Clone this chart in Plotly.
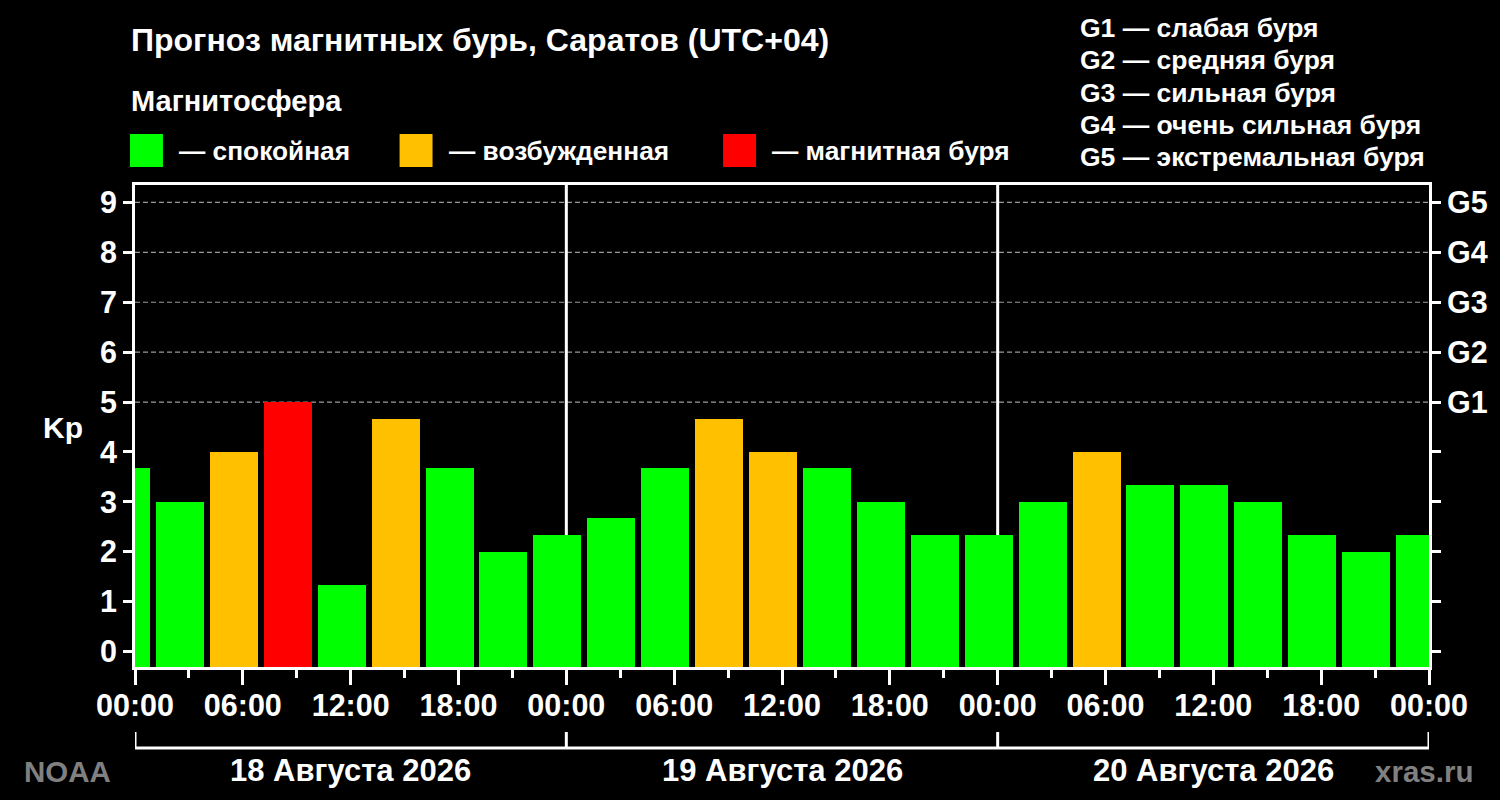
import plotly.graph_objects as go

# Kp forecast, 3-hour UTC bins shown in local time (UTC+04)
bin_centers = [-0.5, 2.5, 5.5, 8.5, 11.5, 14.5, 17.5, 20.5, 23.5, 26.5, 29.5, 32.5, 35.5,
               38.5, 41.5, 44.5, 47.5, 50.5, 53.5, 56.5, 59.5, 62.5, 65.5, 68.5, 71.5]
kp = [3.67, 3.00, 4.00, 5.00, 1.33, 4.67, 3.67, 2.00, 2.33, 2.67, 3.67, 4.67, 4.00,
      3.67, 3.00, 2.33, 2.33, 3.00, 4.00, 3.33, 3.33, 3.00, 2.33, 2.00, 2.33]

hour_ticks = [0, 6, 12, 18, 24, 30, 36, 42, 48, 54, 60, 66, 72]
hour_labels = ["00:00", "06:00", "12:00", "18:00"] * 3 + ["00:00"]
minor_ticks = [3, 9, 15, 21, 27, 33, 39, 45, 51, 57, 63, 69]
day_bounds = [0, 24, 48, 72]
day_centers = [12, 36, 60]
day_labels = ["18 Августа 2026", "19 Августа 2026", "20 Августа 2026"]

kp_ticks = [0, 1, 2, 3, 4, 5, 6, 7, 8, 9]
storm_levels = [5, 6, 7, 8, 9]
storm_labels = ["G1", "G2", "G3", "G4", "G5"]
storm_names = ["G1 — слабая буря", "G2 — средняя буря", "G3 — сильная буря",
               "G4 — очень сильная буря", "G5 — экстремальная буря"]

GREEN, ORANGE, RED = "#00ff00", "#ffc000", "#ff0000"
legend_items = [("— спокойная", GREEN), ("— возбужденная", ORANGE), ("— магнитная буря", RED)]
colors = [RED if v >= 5 else ORANGE if v >= 4 else GREEN for v in kp]

W, H = 1500, 800
L, R, T, B = 135, 1431, 185, 667
y_floor, y_top = -0.31, 9.35
FONT = "Liberation Sans, Arial, sans-serif"


def px(x):
    return (x - L) / (R - L)


def py(y):
    return (B - y) / (B - T)


fig = go.Figure()
fig.add_trace(go.Bar(
    x=bin_centers,
    y=[v - y_floor for v in kp],
    base=y_floor,
    width=2.67,
    marker=dict(color=colors, line=dict(width=0)),
    showlegend=False,
))
# invisible trace to carry the right-hand G axis
fig.add_trace(go.Scatter(x=[0], y=[0], yaxis="y2", mode="markers",
                         marker=dict(opacity=0), showlegend=False, hoverinfo="skip"))

shapes = []
for lvl in storm_levels:
    shapes.append(dict(type="line", xref="x domain", yref="y", x0=0, x1=1, y0=lvl, y1=lvl,
                       line=dict(color="#9a9a9a", width=1.2, dash="5px,3px"), layer="below"))
for d in day_bounds[1:-1]:
    shapes.append(dict(type="line", xref="x", yref="y domain", x0=d, x1=d, y0=0, y1=1,
                       line=dict(color="white", width=3), layer="below"))
# date bracket under the time axis
shapes.append(dict(type="line", xref="x", yref="paper", x0=day_bounds[0], x1=day_bounds[-1],
                   y0=py(748), y1=py(748), line=dict(color="white", width=3)))
for d in day_bounds:
    shapes.append(dict(type="line", xref="x", yref="paper", x0=d, x1=d,
                       y0=py(748), y1=py(732), line=dict(color="white", width=3)))

annotations = []
annotations.append(dict(text="Прогноз магнитных бурь, Саратов (UTC+04)", x=px(129), y=py(40),
                        xanchor="left", yanchor="middle", font=dict(size=32)))
annotations.append(dict(text="Магнитосфера", x=px(129), y=py(101),
                        xanchor="left", yanchor="middle", font=dict(size=29)))
legend_x = [130, 400, 724]
for (label, col), lx in zip(legend_items, legend_x):
    shapes.append(dict(type="rect", xref="paper", yref="paper", x0=px(lx), x1=px(lx + 33),
                       y0=py(167), y1=py(134), fillcolor=col, line=dict(width=0)))
    annotations.append(dict(text=label, x=px(lx + 47), y=py(151),
                            xanchor="left", yanchor="middle", font=dict(size=26.3)))
for i, name in enumerate(storm_names):
    annotations.append(dict(text=name, x=px(1079), y=py(28 + i * 32.3),
                            xanchor="left", yanchor="middle", font=dict(size=26.5)))
annotations.append(dict(text="Kp", x=px(63), y=py(427), xanchor="center", yanchor="middle",
                        font=dict(size=30)))
for c, lab in zip(day_centers, day_labels):
    annotations.append(dict(text=lab, xref="x", x=c, y=py(770), xanchor="center",
                            yanchor="middle", font=dict(size=31)))
annotations.append(dict(text="NOAA", x=px(67), y=py(771), xanchor="center", yanchor="middle",
                        font=dict(size=29.5, color="#808080")))
annotations.append(dict(text="xras.ru", x=px(1426), y=py(771), xanchor="center", yanchor="middle",
                        font=dict(size=29.5, color="#808080")))
for a in annotations:
    a.setdefault("xref", "paper")
    a["yref"] = "paper"
    a["showarrow"] = False
    a["font"].setdefault("color", "white")
    a["font"]["family"] = FONT
    a["font"]["weight"] = "bold"

tick_font = dict(family=FONT, size=30.5, color="white", weight="bold")
fig.update_layout(
    width=W, height=H,
    margin=dict(l=L, r=W - R, t=T, b=H - B),
    paper_bgcolor="black", plot_bgcolor="black",
    bargap=0,
    xaxis=dict(range=[0, 72], tickmode="array", tickvals=hour_ticks, ticktext=hour_labels,
               ticks="outside", ticklen=15, tickwidth=3, tickcolor="white",
               ticklabelstandoff=-6,
               minor=dict(tickvals=minor_ticks, ticks="outside", ticklen=8, tickwidth=3,
                          tickcolor="white"),
               showline=True, linewidth=3, linecolor="white", mirror=True,
               showgrid=False, zeroline=False, tickfont=tick_font),
    yaxis=dict(range=[y_floor, y_top], tickmode="array", tickvals=kp_ticks,
               ticks="outside", ticklen=9, tickwidth=3, tickcolor="white",
               showline=True, linewidth=3, linecolor="white",
               showgrid=False, zeroline=False, tickfont=tick_font),
    yaxis2=dict(range=[y_floor, y_top], overlaying="y", side="right", tickmode="array",
                tickvals=kp_ticks, ticktext=[""] * 5 + storm_labels,
                ticks="outside", ticklen=9, tickwidth=3, tickcolor="white",
                showline=True, linewidth=3, linecolor="white",
                showgrid=False, zeroline=False, tickfont=tick_font),
    shapes=shapes,
    annotations=annotations,
)

fig.write_html("out.html", config={"displayModeBar": False},
               post_script="document.body.style.margin='0';"
                           "document.body.style.background='black';")
